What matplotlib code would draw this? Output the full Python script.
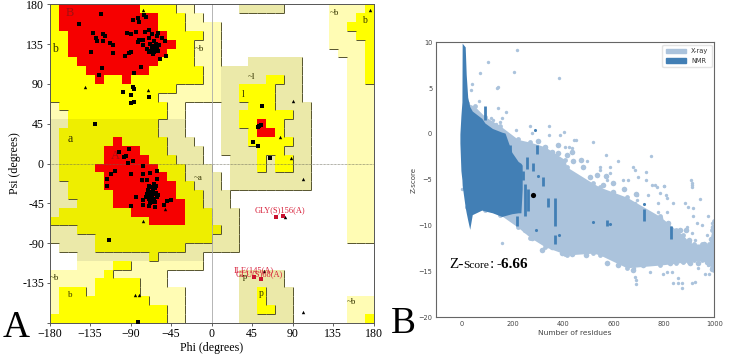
#!/usr/bin/python

import numpy as np
import matplotlib
matplotlib.use('Agg')
import matplotlib.pyplot as plt
from matplotlib.colors import ListedColormap
from matplotlib.patches import Patch

# Ramachandran regions, one string per psi row from 180 down to -180,
# one char per 10 degrees of phi from -180 to 180
regions = [
    'Y RRRRRRRRR YYYY LL WWWWW KKKKK WWWWW LLLL Y',
    'Y RRRRRRRRRRR YYY LL WWWWWWWWWWWWWW LLL YY',
    'Y RRRRRRRRRRR YYY LLLL WWWWWWWWWWWW LL YYY',
    'YY RRRRRRRRRRR YYYY LL WWWWWWWWWWWW LLL YY',
    'YY RRRRRRRRRRRR YY LLL WWWWWWWWWWWW LLLL Y',
    'YY RRRRRRRRRRR YYY LLL WWWWWWWWWWWWW LLL Y',
    'YYY RRRRRRRRR YYYY LLL WWW KKKKKK WWWWW LL Y',
    'YYYY RRRRRRR YYYYYY LL KKKKKKKKK WWWWW LL Y',
    'YYYYY R YY R YYYYYYYY LL KKKKK YY KK WWWWW LL Y',
    'YYYYYYYYYYYYYY LLLLL KK YYYY KKK WWWWW LLL',
    'YYYYYYYYYYYY LLLLLLL KK YYYY KKK WWWWW LLL',
    'L YYYYYYYYYYYY LL WWWW KKK YYY KKKK WWWW LLL',
    'LL YYYYYYYYYYY LL WWWW KK YYYYYY KK WWWW LLL',
    'KK OOOOOOOOOO KKK WWWW KK YY R YY KKK WWWW LLL',
    'K OOOOOOOOOOO KKK WWWW KKK Y RR Y KKK WWWW LLL',
    'K OOOOOO R OOOOO KKK WWW KKK YYYYY KK WWWW LLL',
    'K OOOOO RRRR OOO KKKK WW KKKK YYY KKK WWWW LLL',
    'K OOOOO RRRRR OOO KKK WWW KKK Y K YY KK WWWW LLL',
    'K OOOO RRRRRRR OOO KKK WW KKK Y K YY KK WWWW LLL',
    'K OOOOO RRRRRRR OO KKKK W KKKKKKKKK WWWW LLL',
    'KK OOOO RRRRRRRR OO KKK W KKKKKKKKK WWWW LLL',
    'KK OOOOO RRRRRRR OOO KKK WWWWWWWWWWWWW LLL',
    'KKK OOOO RRRRRRRR OO KKK WWWWWWWWWWWWW LLL',
    'K OOOOOOOO RRRRRR OOO KKK WWWWWWWWWWWW LLL',
    'OOOOOOOOOOO RRRR OOO KKK WWWWWWWWWWWW LLL',
    'KKK OOOOOOOOOOOOOOOO KK WWWWWWWWWWWW LLL',
    'KKKKK OOOOOOOOOOOOO KKK WWWWWWWWWWWW LLL',
    'W KKKK OOOOOOOOOO KKKKKK WWWWWWWWWWWWWWW',
    'WWW KKKKKKKK O KKKKK WWWWWWWWWWWWWWWWWWW',
    'WWW LLLL YY LLLLLLLL WWWWWWWWWWWWWWWWWWW',
    'LLLLLL Y LLLLLL WWWWWWWW KKKKK WWWWWWWWWW',
    'LLLLL YYYYY LLL WWWWWWWW KKKKK WWWWWWWWWW',
    'L YYY L YYYYY LLLLL WWWWWW KK Y KKK WWWWWWWWW',
    'L YYYYYYYYYY LLLL WWWWWW KK Y KKK WWWWWW LLL',
    'L YYYYYYYYYYYY LL WWWWWW KK YY KK WWWWWW LLL',
    'YYYYYYYYYYYYY LL WWWWWW KKKKKK WWWWWW LL Y',
]

region_codes = 'WLKYOR'
region_colors = ['#ffffff', '#fffcb4', '#ebe9a9', '#ffff00', '#eeee00', '#f60000']
region_rank = [0, 1, 1, 2, 2, 2]

square_phi = [-123, -147, -132, -128, -127, -121, -118, -121, -113, -109, -134, -109,
              -96, -92, -89, -94, -89, -84, -87, -82, -81, -75, -73, -70, -74, -66,
              -61, -52, -81, -82, -76, -76, -70, -64, -63, -66, -70, -64, -51, -57,
              -78, -86, -122, -125, -98, -87, -86, -89, -90, -86, -70, -130,
              -68, -66, -65, -63, -62, -61, -67, -65, -60, -72, -58, -55, -60,
              -103, -95, -97, -92, -87, -93, -76, -107, -90, -76, -68, -61, -116,
              -116, -112, -77, -72, -61, -64, -70, -84, -90, -76, -76, -70, -68,
              -66, -64, -63, -61, -68, -63, -50, -45, -53, -114, -82,
              -72, -70, -68, -66, -65, -64, -62, -71, -67, -63, -69, -73, -60, -66, -62,
              56, 53, 55, 52, 46, 51, 65]
square_psi = [169, 158, 147, 142, 139, 146, 144, 138, 136, 134, 126, 125,
              122, 125, 126, 147, 146, 149, 162, 164, 160, 168, 166, 151, 149, 146,
              144, 139, 140, 137, 140, 134, 142, 138, 132, 128, 126, 126, 122, 118,
              109, 102, 108, 100, 81, 86, 84, 77, 68, 69, 75, 45,
              135, 133, 131, 129, 135, 130, 127, 124, 127, 130, 134, 142, 147,
              13, 8, 7, 16, 3, 1, -3, -8, -12, -12, -11, -9, -18,
              -26, -12, -19, -19, -17, -23, -26, -38, -48, -41, -47, -32, -38,
              -42, -34, -28, -38, -45, -49, -42, -41, -47, -86, -179,
              -35, -40, -34, -37, -30, -40, -33, -30, -44, -44, -48, -38, -36, -27, -26,
              65, 42, 43, 41, 24, 20, 6]
triangle_phi = [-141, -71, -76, 176, 90, 76, 88, 102, 82, 101, 58, -76, -52, -85, -81, -77]
triangle_psi = [87, 83, 174, 174, 71, 30, 6, -18, -60, -168, -122, -65, -52, -149, -149, -19]
outlier_phi = [72, 79, 47, 55]
outlier_psi = [-60, -59, -128, -131]

# Z-score panel
xray_x = [18, 50, 90, 150, 222, 270, 328, 407, 415, 520, 546, 653, 785, 850, 875,
          900, 920, 950, 980, 990, 1000]
xray_top = [3.4, 3.0, 1.9, 0.9, -0.6, -0.9, -1.4, -2.8, -3.6, -5.4, -5.8, -6.9, -9.0,
            -10.5, -11.0, -11.8, -12.0, -12.0, -12.0, -10.5, -9.5]
xray_bottom = [-8.0, -8.2, -8.3, -8.8, -10.2, -11.3, -12.3, -13.1, -13.2, -13.0, -13.2,
               -14.6, -14.3, -14.1, -14.0, -14.0, -13.8, -13.8, -14.2, -14.6, -14.8]
xray_edge_x = [203, 236, 262, 295, 328, 355, 381, 414, 434, 441, 480, 507, 533, 560, 599, 626,
               665, 705, 745, 785, 818, 864, 888, 249, 275, 315, 355, 394, 434, 414, 493, 573,
               619, 652, 679, 718, 771, 824, 877, 903, 937, 970, 990, 960, 985, 930, 900, 995,
               690, 640, 600, 570, 470, 380, 300]
xray_edge_y = [-0.84, -1.2, -1.57, -1.93, -1.39, -1.93, -2.1, -2.3, -1.93, -3.0, -3.57, -4.66,
               -4.48, -5.57, -6.3, -7.2, -7.57, -8.3, -8.84, -9.2, -9.75, -10.5, -10.5, -10.5,
               -11.4, -12.66, -12.3, -13.0, -13.1, -12.84, -13.2, -14.1, -14.3, -13.6, -14.84,
               -14.3, -13.9, -14.1, -13.9, -14.1, -14.1, -14.0, -14.7, -12.0, -11.5, -12.6,
               -11.6, -10.2, -6.6, -6.0, -5.4, -4.6, -2.8, -1.2, -0.8]
nmr_x = [-9, -5, -1, 0, 12, 16, 22, 30, 40, 78, 90, 120, 157, 170, 197, 222, 233, 238]
nmr_top = [0.0, 2.0, 3.5, 9.9, 9.5, 6.5, 4.0, 3.0, 2.5, 1.7, 1.2, 0.6, 0.2, 0.1, -2.0,
           -3.0, -3.2, -3.4]
nmr_bottom = [-1.0, -4.0, -5.0, -5.6, -8.0, -8.6, -9.4, -10.4, -8.8, -8.3, -8.4, -8.6,
              -9.0, -8.9, -8.7, -8.6, -8.6, -6.0]

nmr_column_x = [90, 165, 190, 210, 240, 257, 280, 297, 320, 250, 262, 340, 367, 367, 218, 573, 720, 828]
nmr_column_low = [1.5, -1.5, -2.5, -4.0, -5.0, -3.8, -4.0, -2.2, -5.7, -9.0, -8.4, -8.0, -10.0, -12.0, -10.0, -10.0, -9.5, -11.5]
nmr_column_high = [3.0, -0.5, -1.2, -2.8, -4.0, -2.5, -3.2, -1.2, -4.7, -5.5, -6.0, -7.0, -7.0, -11.0, -9.0, -9.4, -8.2, -10.0]
nmr_dot_x = [290, 293, 386, 520, 585, 720, 300]
nmr_dot_y = [0.4, -10.5, -11.0, -9.6, -9.8, -7.6, -4.6]

xray_dot_x = [216, 101, 70, 207, 384, 143, 139, 37, 35, 68, 142, 172, 156, 150, 136, 114, 123,
              212, 269, 345, 344, 275, 388, 404, 443, 520, 450, 748, 619, 570, 494, 679, 685,
              586, 586, 573, 546, 546, 639, 659, 699, 729, 729, 765, 800, 906, 910, 425, 434,
              408, 910, 910, 943, 884, 897, 917, 917, 976, 930, 950, 890, 910, 877, 923, 970,
              990, 996, 930, 966, 950, 976, 996, 963, 980, 937, 811, 798, 831, 857, 838, 857,
              871, 873, 910, 924, 685, 689, 689, 745, 681, 808, 814, 835, 785, 771, 751, 738,
              802, 778, 811, 778, 692, 692, 685, 156, 0]
xray_dot_y = [9.16, 7.81, 6.61, 6.79, 6.07, 5.16, 4.98, 5.5, 4.79, 3.63, 2.79, 2.43, 1.7, 1.34,
              1.08, 1.7, 1.52, 0.43, 0.9, 0.87, -0.12, 0.07, -0.12, 0.18, -0.66, -0.92, -0.66,
              -2.41, -2.95, -2.3, -3.0, -3.57, -3.93, -3.57, -4.3, -5.0, -3.57, -3.93, -5.0,
              -5.0, -4.66, -4.12, -5.0, -5.57, -5.64, -5.0, -5.57, -1.39, -1.57, -1.39, -5.38,
              -5.75, -7.09, -7.57, -7.93, -8.11, -8.91, -8.91, -9.75, -9.93, -10.11, -10.84,
              -11.38, -11.57, -11.02, -9.75, -11.02, -12.66, -12.73, -13.57, -14.29, -14.66,
              -15.31, -15.31, -14.66, -15.02, -15.31, -15.02, -15.75, -16.29, -16.29, -16.29,
              -16.84, -16.22, -16.11, -15.56, -15.93, -16.37, -15.02, -14.66, -6.66, -7.02,
              -7.49, -6.47, -5.75, -5.57, -6.66, -5.64, -7.57, -8.55, -8.47, -6.66, -7.2,
              -7.57, -11.9, -6.0]
query_x = [281]
query_y = [-6.7]

W, H = 750.0, 357.0
SERIF = 'Liberation Serif'

fig = plt.figure(figsize=(7.5, 3.57), dpi=100)


def box(x0, y0, x1, y1):
    return [x0 / W, 1 - y1 / H, (x1 - x0) / W, (y1 - y0) / H]


def draw_ramachandran(ax):
    rows = [r.replace(' ', '') for r in regions]
    grid = np.array([[region_codes.index(c) for c in r] for r in rows])
    phi_edges = np.arange(-180, 190, 10)
    psi_edges = np.arange(180, -190, -10)
    cmap = ListedColormap(region_colors)
    ax.pcolormesh(phi_edges, psi_edges, grid, cmap=cmap, vmin=-0.5, vmax=5.5, zorder=1)

    # dark lines on the right and lower side of each step
    rank = np.array(region_rank)[grid]
    line_color = '#55532c'
    for r in range(grid.shape[0]):
        for c in range(grid.shape[1]):
            if c < grid.shape[1] - 1 and rank[r, c] > rank[r, c + 1]:
                ax.vlines(phi_edges[c + 1], psi_edges[r + 1], psi_edges[r], color=line_color, lw=0.7, zorder=2)
            if r < grid.shape[0] - 1 and rank[r, c] > rank[r + 1, c]:
                ax.hlines(psi_edges[r + 1], phi_edges[c], phi_edges[c + 1], color=line_color, lw=0.7, zorder=2)

    ax.axhline(0, color='#666655', lw=0.5, ls=(0, (1, 1)), zorder=2)
    ax.axvline(0, color='#aaaaaa', lw=0.6, zorder=2)

    ax.scatter(square_phi, square_psi, marker='s', s=7, color='black', linewidths=0, zorder=4, clip_on=False)
    ax.scatter(triangle_phi, triangle_psi, marker='^', s=6, color='black', linewidths=0, zorder=4)
    ax.scatter(outlier_phi, outlier_psi, marker='s', s=9, color='#c8102e', linewidths=0, zorder=5)

    for (x, y, s, col, size) in [(-157, 170, 'B', '#a01010', 9), (-174, 129, 'b', '#333300', 8.5),
                                 (-157, 28, 'a', '#333300', 8.5), (-107, 9, 'A', '#a01010', 9),
                                 (-13, 130, '~b', '#333300', 6.5), (44, 98, '~l', '#333300', 6.5),
                                 (35, 78, 'l', '#333300', 7), (136, 170, '~b', '#333300', 6.5),
                                 (170, 162, 'b', '#333300', 7), (-15, -16, '~a', '#333300', 6.5),
                                 (35, -128, '~p', '#333300', 6.5), (55, -147, 'p', '#333300', 7),
                                 (155, -157, '~b', '#333300', 6.5), (-175, -129, '~b', '#333300', 6.5),
                                 (-157, -149, 'b', '#333300', 6.5)]:
        ax.text(x, y, s, color=col, fontsize=size, family=SERIF, ha='center', va='center', zorder=3)

    red = '#d8203a'
    ax.text(76, -53, 'GLY(S)156(A)', color=red, fontsize=6, family=SERIF, ha='center', va='center', zorder=6)
    ax.text(47, -121, 'ILE(145(A)', color=red, fontsize=6, family=SERIF, ha='center', va='center', zorder=6)
    ax.text(53, -125, 'GLU(S)68(A)', color=red, fontsize=6, family=SERIF, ha='center', va='center', zorder=6)

    ticks = np.arange(-180, 181, 45)
    ax.set_xlim(-180, 180)
    ax.set_ylim(-180, 180)
    ax.set_xticks(ticks)
    ax.set_yticks(ticks)
    ax.set_yticklabels([''] + [str(t) for t in ticks[1:]])
    ax.tick_params(length=2.5, width=0.6, color='#444444', labelsize=8.6, pad=1.5)
    for t in ax.get_xticklabels() + ax.get_yticklabels():
        t.set_family(SERIF)
    ax.set_xlabel('Phi (degrees)', family=SERIF, fontsize=8.6, labelpad=1.5)
    ax.set_ylabel('Psi (degrees)', family=SERIF, fontsize=8.6, labelpad=1)
    for s in ax.spines.values():
        s.set_color('#555555')
        s.set_linewidth(0.7)


def draw_zscore(ax):
    light = '#abc3dc'
    dark = '#427fb5'
    ax.fill_between(xray_x, xray_bottom, xray_top, color=light, lw=0, zorder=1)
    ax.scatter(xray_x, xray_top, s=12, color=light, linewidths=0, zorder=1)
    ax.scatter(xray_x, xray_bottom, s=12, color=light, linewidths=0, zorder=1)
    ax.scatter(xray_edge_x, xray_edge_y, s=16, color=light, linewidths=0, zorder=1)
    ax.scatter(xray_dot_x, xray_dot_y, s=6, color=light, linewidths=0, zorder=1)
    ax.fill_between(nmr_x, nmr_bottom, nmr_top, color=dark, lw=0, zorder=2)
    ax.vlines(nmr_column_x, nmr_column_low, nmr_column_high, color=dark, lw=2, zorder=2)
    ax.scatter(nmr_dot_x, nmr_dot_y, s=5, color=dark, linewidths=0, zorder=2)
    ax.scatter(query_x, query_y, s=14, color='black', linewidths=0, zorder=3)

    ax.set_xlim(-105, 1000)
    ax.set_ylim(-20, 10)
    ax.set_xticks(np.arange(0, 1001, 200))
    ax.set_yticks(np.arange(-20, 11, 5))
    ax.tick_params(length=0, labelsize=4.8, labelcolor='#444444', pad=2.5)
    ax.set_xlabel('Number of residues', fontsize=5.4, color='#444444', labelpad=2.5)
    ax.set_ylabel('Z-score', fontsize=5.0, color='#444444', labelpad=1)
    for s in ax.spines.values():
        s.set_color('#666666')
        s.set_linewidth(0.8)
    handles = [Patch(color=light, label='X-ray'), Patch(color=dark, label='NMR')]
    ax.legend(handles=handles, loc='upper right', fontsize=4.8, frameon=True, framealpha=0.8,
              edgecolor='#dddddd', borderpad=0.5, handlelength=3, labelspacing=0.5,
              borderaxespad=0.4, handletextpad=0.8, labelcolor='#333333')


ax_a = fig.add_axes(box(49.5, 4.3, 373.7, 322.7))
ax_b = fig.add_axes(box(435.7, 42.3, 714.3, 317.3))
draw_ramachandran(ax_a)
draw_zscore(ax_b)


def label(x, y, s, **kw):
    fig.text(x / W, 1 - y / H, s, family=SERIF, va='baseline', **kw)


label(3, 337, 'A', fontsize=27)
label(391, 333, 'B', fontsize=27)
label(449, 268, 'Z-', fontsize=11)
label(463, 268, 'Score', fontsize=8.2)
label(490, 268, ':', fontsize=11)
label(497, 268, '-6.66', fontsize=11, fontweight='bold')

fig.savefig('out.png', dpi=100)
